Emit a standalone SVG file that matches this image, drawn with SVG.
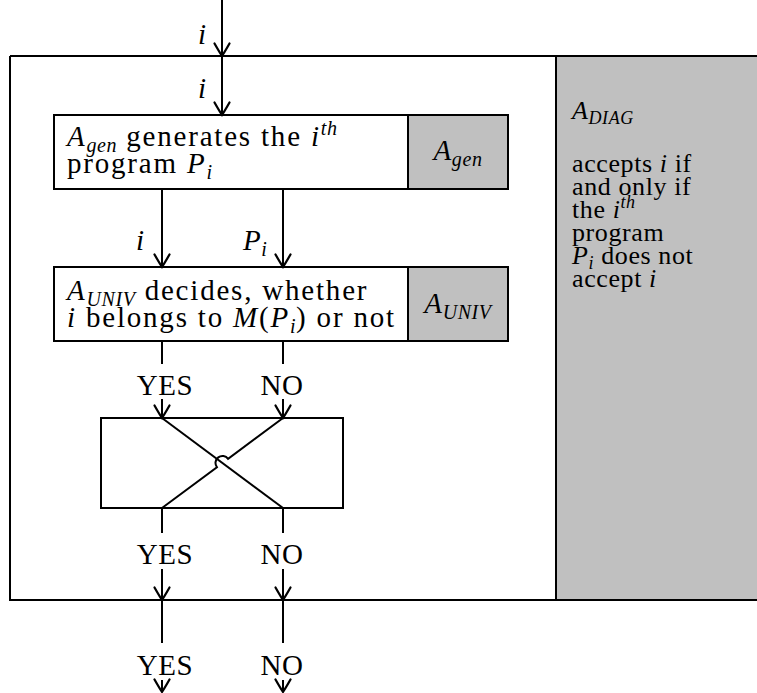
<svg xmlns="http://www.w3.org/2000/svg" width="757" height="693" viewBox="0 0 757 693">
<defs>
<marker id="to" markerUnits="userSpaceOnUse" markerWidth="20" markerHeight="20" viewBox="-12 -8 14 16" refX="0" refY="0" orient="auto" overflow="visible">
<path d="M -10 -6 Q -3 -2 0 0 Q -3 2 -10 6" fill="none" stroke="#000" stroke-width="1.8" stroke-linecap="round"/>
</marker>
</defs>
<style>
text{font-family:"Liberation Serif","Times New Roman",serif;font-size:29px;fill:#000;letter-spacing:1.8px}
.it{font-style:italic}
.sub{font-size:20px;font-style:italic;letter-spacing:0.6px}
.rc{font-size:26px;letter-spacing:0.6px}
.rc .sub{font-size:18px}
.box{fill:#fff;stroke:#000;stroke-width:2}
.gray{fill:#c0c0c0;stroke:#000;stroke-width:2}
.ln{fill:none;stroke:#000;stroke-width:2}
.ar{fill:none;stroke:#000;stroke-width:2;marker-end:url(#to)}
</style>
<g id="diag">
<rect x="556" y="56" width="210" height="544" fill="#c0c0c0"/>
<path class="ln" d="M 10 56 H 757 M 10 56 V 600 H 757 M 556 56 V 600"/>
<text class="rc" x="572" y="119"><tspan class="it">A</tspan><tspan class="sub" dy="5">DIAG</tspan></text>
<text class="rc" x="572" y="172">accepts <tspan class="it">i</tspan> if</text>
<text class="rc" x="572" y="195">and only if</text>
<text class="rc" x="572" y="218">the <tspan class="it">i</tspan><tspan class="sub" dy="-10">th</tspan></text>
<text class="rc" x="572" y="241">program</text>
<text class="rc" x="572" y="264"><tspan class="it">P</tspan><tspan class="sub" dy="5">i</tspan><tspan dy="-5"> does not</tspan></text>
<text class="rc" x="572" y="287">accept <tspan class="it">i</tspan></text>
</g>
<g id="gen">
<rect class="box" x="54" y="115" width="354" height="74"/>
<rect class="gray" x="408" y="115" width="100" height="74"/>
<text x="67" y="146"><tspan class="it">A</tspan><tspan class="sub" dy="6">gen</tspan><tspan dy="-6"> generates the </tspan><tspan class="it">i</tspan><tspan class="sub" dy="-11">th</tspan></text>
<text x="67" y="173">program <tspan class="it">P</tspan><tspan class="sub" dy="6">i</tspan></text>
<text x="458" y="160" text-anchor="middle" style="letter-spacing:0.6px"><tspan class="it">A</tspan><tspan class="sub" dy="6">gen</tspan></text>
</g>
<g id="univ">
<rect class="box" x="54" y="267" width="354" height="74"/>
<rect class="gray" x="408" y="267" width="100" height="74"/>
<text x="67" y="300"><tspan class="it">A</tspan><tspan class="sub" dy="6">UNIV</tspan><tspan dy="-6"> decides, whether</tspan></text>
<text x="67" y="327"><tspan class="it">i</tspan> belongs to <tspan class="it">M</tspan>(<tspan class="it">P</tspan><tspan class="sub" dy="6">i</tspan><tspan dy="-6">) or not</tspan></text>
<text x="458" y="313" text-anchor="middle" style="letter-spacing:0.6px"><tspan class="it">A</tspan><tspan class="sub" dy="6">UNIV</tspan></text>
</g>
<g id="cross">
<rect class="box" x="101" y="418" width="242" height="90"/>
<path class="ln" d="M 162 418 L 283 508"/>
<path class="ln" d="M 283 418 L 228.1 458.8 A 7 7 0 0 0 216.9 467.2 L 162 508"/>
</g>
<g id="connectors">
<path class="ar" d="M 222 0 V 56"/>
<path class="ar" d="M 222 56 V 115"/>
<path class="ar" d="M 162 189 V 267"/>
<path class="ar" d="M 283 189 V 267"/>
<path class="ln" d="M 162 341 V 364 M 283 341 V 364"/>
<path class="ar" d="M 162 399 V 418"/>
<path class="ar" d="M 283 399 V 418"/>
<path class="ln" d="M 162 508 V 533 M 283 508 V 533"/>
<path class="ar" d="M 162 569 V 600"/>
<path class="ar" d="M 283 569 V 600"/>
<path class="ln" d="M 162 600 V 643 M 283 600 V 643"/>
<path class="ar" d="M 162 680 V 692"/>
<path class="ar" d="M 283 680 V 692"/>
<text x="198" y="44" class="it">i</text>
<text x="198" y="98" class="it">i</text>
<text x="136" y="250" class="it">i</text>
<text x="243" y="250" style="letter-spacing:0.6px"><tspan class="it">P</tspan><tspan class="sub" dy="6">i</tspan></text>
<text x="165" y="395" text-anchor="middle" style="letter-spacing:0.6px">YES</text>
<text x="282" y="395" text-anchor="middle" style="letter-spacing:0.6px">NO</text>
<text x="165" y="564" text-anchor="middle" style="letter-spacing:0.6px">YES</text>
<text x="282" y="564" text-anchor="middle" style="letter-spacing:0.6px">NO</text>
<text x="165" y="675" text-anchor="middle" style="letter-spacing:0.6px">YES</text>
<text x="282" y="675" text-anchor="middle" style="letter-spacing:0.6px">NO</text>
</g>
</svg>
